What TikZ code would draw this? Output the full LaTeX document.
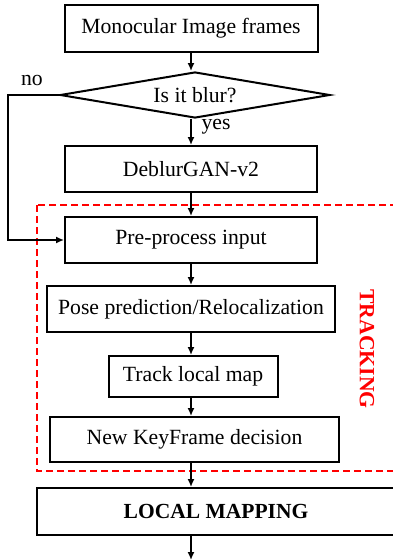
\documentclass[tikz,border=0pt]{standalone}
\usepackage{fontspec}
\setmainfont{Liberation Serif}
\usetikzlibrary{shapes.geometric,arrows.meta}

\begin{document}
\begin{tikzpicture}[x=1pt, y=-1pt, font = \fontsize{21.7}{26}\selectfont,
    block/.style = {draw, line width = 2pt, minimum height = 46pt, inner sep = 0pt},
    decision/.style = {draw, diamond, line width = 2pt, aspect = 5.9,
        minimum width = 270pt, minimum height = 46pt, inner sep = 0pt},
    flow/.style = {-{Latex[length = 8pt, width = 7pt]}, line width = 1.5pt}]
            \useasboundingbox (0,0) rectangle (393,560);

            % tracking frame
            \draw [red, line width = 2pt, dash pattern = on 7pt off 4pt] (37,205) rectangle (402,471);
            \node [red, rotate = -90, font = \fontsize{21.7}{26}\selectfont\bfseries] (tracking) at (367,349) {TRACKING};

            \node [block, minimum width = 253pt, minimum height = 47pt] (frames) at (191,28.5) {Monocular Image frames};
            \node [decision] (blur) at (195,95) {Is it blur?};
            \node [block, minimum width = 252pt] (deblur) at (191,169) {DeblurGAN-v2};
            \node [block, minimum width = 252pt] (prep) at (191,240) {Pre-process input};
            \node [block, minimum width = 288pt] (pose) at (191,309) {Pose prediction/Relocalization};
            \node [block, minimum width = 169pt, minimum height = 41pt] (track) at (193,376.5) {Track local map};
            \node [block, minimum width = 289pt, minimum height = 45pt] (keyframe) at (194.5,439.5) {New KeyFrame decision};
            \node [block, minimum width = 358pt, minimum height = 47pt,
                font = \fontsize{21.5}{26}\selectfont\bfseries] (mapping) at (216,511.5) {LOCAL MAPPING};

            \node (no) at (32,80) {no};
            \node (yes) at (216,127) {yes};

            \coordinate (nobend) at (8,240);
            \coordinate (out) at (191,560);

            \draw [flow] (frames.south) -- (frames.south |- blur.north);
            \draw [flow] (frames.south |- blur.south) -- (deblur.north);
            \draw [flow] (deblur.south) -- (prep.north);
            \draw [flow] (prep.south) -- (pose.north);
            \draw [flow] (pose.south) -- (pose.south |- track.north);
            \draw [flow] (pose.south |- track.south) -- (pose.south |- keyframe.north);
            \draw [flow] (pose.south |- keyframe.south) -- (pose.south |- mapping.north);
            \draw [flow] (pose.south |- mapping.south) -- (out);
            \draw [flow] (blur.west) -| (nobend) -- (prep.west);
        \end{tikzpicture}
\end{document}
